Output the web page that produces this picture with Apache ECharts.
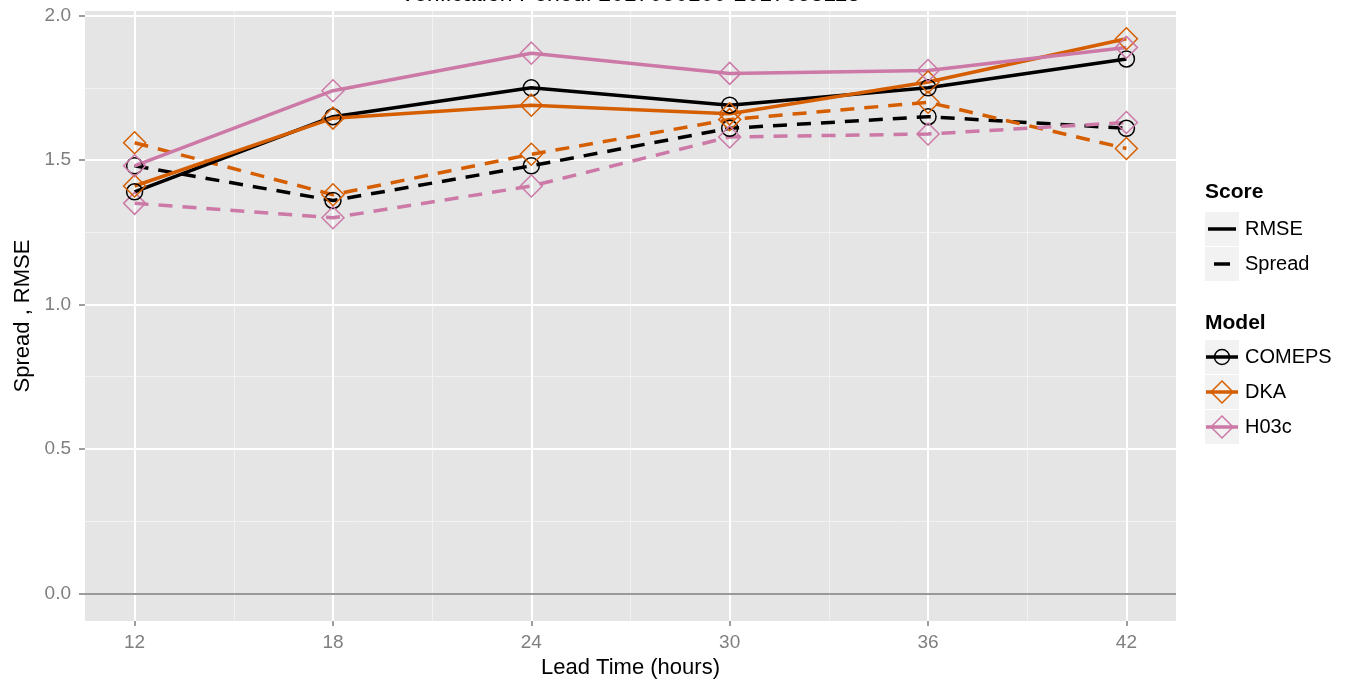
<!DOCTYPE html>
<html lang="en">

<head>
    <meta charset="UTF-8">
    <title>Spread, RMSE</title>
    <script src="https://cdn.jsdelivr.net/npm/echarts@6.0.0/dist/echarts.min.js"></script>
    <style>
        body { margin: 0; background: #fff; }
    </style>
</head>

<body>
    <div id="main" style="width: 1357px;height: 680px;"></div>
    <script>
        // lead times and tick positions
        var hours = [12, 18, 24, 30, 36, 42]
        var xTicks = [12, 18, 24, 30, 36, 42]
        var xMinor = [15, 21, 27, 33, 39]
        var yTicks = [0, 0.5, 1.0, 1.5, 2.0]
        var yMinor = [0.25, 0.75, 1.25, 1.75]

        // RMSE (solid lines)
        var comepsRmse = [1.39, 1.65, 1.75, 1.69, 1.75, 1.85]
        var dkaRmse = [1.41, 1.645, 1.69, 1.66, 1.77, 1.92]
        var h03cRmse = [1.48, 1.74, 1.87, 1.80, 1.81, 1.89]
        // Spread (dashed lines)
        var comepsSpread = [1.48, 1.36, 1.48, 1.61, 1.65, 1.61]
        var dkaSpread = [1.56, 1.38, 1.52, 1.64, 1.70, 1.54]
        var h03cSpread = [1.35, 1.30, 1.41, 1.58, 1.59, 1.63]

        var FONT = 'Liberation Sans, Arial, sans-serif'
        var BLACK = '#000000', ORANGE = '#D55E00', PINK = '#CC79A7'
        var DASH = [14, 10]

        function pts(vals) {
            return hours.map(function (h, i) { return [h, vals[i]] })
        }

        // one line series; open markers like ggplot shapes 1 and 5
        function line(name, vals, color, symbol, size, dashed) {
            return {
                name: name,
                type: 'line',
                data: pts(vals),
                symbol: symbol,
                symbolSize: size,
                showAllSymbol: true,
                lineStyle: { color: color, width: 3.5, type: dashed ? DASH : 'solid' },
                itemStyle: { color: 'rgba(0,0,0,0)', borderColor: color, borderWidth: 1.5 },
                emphasis: { disabled: true }
            }
        }

        var series = [
            line('COMEPS Spread', comepsSpread, BLACK, 'circle', 16, true),
            line('DKA Spread', dkaSpread, ORANGE, 'diamond', 22, true),
            line('H03c Spread', h03cSpread, PINK, 'diamond', 22, true),
            line('COMEPS RMSE', comepsRmse, BLACK, 'circle', 16, false),
            line('DKA RMSE', dkaRmse, ORANGE, 'diamond', 22, false),
            line('H03c RMSE', h03cRmse, PINK, 'diamond', 22, false)
        ]
        // horizontal line at 0
        series[0].markLine = {
            silent: true,
            symbol: 'none',
            label: { show: false },
            lineStyle: { color: '#999999', width: 2, type: 'solid' },
            data: [{ yAxis: 0 }],
            z: 1
        }

        /* legend drawn by hand: two titled groups like ggplot */
        var LX = 1205, BOX = 34
        var legend = []
        function label(txt, y, bold) {
            legend.push({
                type: 'text', x: bold ? LX : LX + 40, y: y,
                style: { text: txt, font: (bold ? 'bold 21px ' : '20px ') + FONT, fill: '#000', verticalAlign: 'middle' }
            })
        }
        function box(top) {
            legend.push({ type: 'rect', shape: { x: LX, y: top, width: BOX, height: BOX }, style: { fill: '#F2F2F2' } })
        }
        label('Score', 192, true)
        box(212); box(247)
        legend.push({ type: 'line', shape: { x1: LX + 3, y1: 229, x2: LX + 31, y2: 229 }, style: { stroke: BLACK, lineWidth: 3.5 } })
        legend.push({ type: 'line', shape: { x1: LX + 9, y1: 264, x2: LX + 25, y2: 264 }, style: { stroke: BLACK, lineWidth: 3.5 } })
        label('RMSE', 229)
        label('Spread', 264)

        label('Model', 323, true)
        var models = [['COMEPS', BLACK, 'circle'], ['DKA', ORANGE, 'diamond'], ['H03c', PINK, 'diamond']]
        models.forEach(function (m, i) {
            var top = 340 + i * 35, cy = top + 17, cx = LX + 17
            box(top)
            legend.push({ type: 'line', shape: { x1: LX + 1, y1: cy, x2: LX + 33, y2: cy }, style: { stroke: m[1], lineWidth: 3.5 } })
            if (m[2] === 'circle') {
                legend.push({ type: 'circle', shape: { cx: cx, cy: cy, r: 7.5 }, style: { fill: 'none', stroke: m[1], lineWidth: 1.5 } })
            } else {
                legend.push({ type: 'polygon', shape: { points: [[cx, cy - 11], [cx + 11, cy], [cx, cy + 11], [cx - 11, cy]] }, style: { fill: 'none', stroke: m[1], lineWidth: 1.5 } })
            }
            label(m[0], cy)
        })
        // title, mostly cut off at the top of the picture
        legend.push({
            type: 'text', x: 630, y: 6,
            style: { text: 'Verification Period: 2017050100-2017053118', font: '23px ' + FONT, fill: '#000', align: 'center', verticalAlign: 'bottom' }
        })

        var tickLine = { color: '#7F7F7F', width: 1.5 }
        var myCharts = echarts.init(document.getElementById('main'))
        var option = {
            animation: false,
            grid: {
                left: 85, right: 181, top: 11, height: 610, outerBoundsMode: 'none', containLabel: false,
                show: true, backgroundColor: '#E5E5E5', borderWidth: 0
            },
            xAxis: [
                {
                    type: 'value', min: 10.5, max: 43.5, z: 1,
                    axisLine: { show: false, onZero: false },
                    axisTick: { customValues: xTicks, length: 5, lineStyle: tickLine },
                    axisLabel: { customValues: xTicks, color: '#7F7F7F', fontSize: 19, fontFamily: FONT, margin: 12 },
                    splitLine: { lineStyle: { color: '#FFFFFF', width: 2 } },
                    name: 'Lead Time (hours)', nameLocation: 'middle', nameGap: 33,
                    nameTextStyle: { color: '#000', fontSize: 22, fontFamily: FONT }
                },
                {
                    type: 'value', min: 10.5, max: 43.5, position: 'top', z: 0,
                    axisLine: { show: false, onZero: false },
                    axisTick: { show: false, customValues: xMinor },
                    axisLabel: { show: false, customValues: xMinor },
                    splitLine: { lineStyle: { color: '#F2F2F2', width: 1 } }
                }
            ],
            yAxis: [
                {
                    type: 'value', min: -0.096, max: 2.016, z: 1,
                    axisLine: { show: false, onZero: false },
                    axisTick: { customValues: yTicks, length: 6, lineStyle: tickLine },
                    axisLabel: {
                        customValues: yTicks, color: '#7F7F7F', fontSize: 19, fontFamily: FONT, margin: 14,
                        formatter: function (v) { return v.toFixed(1) }
                    },
                    splitLine: { lineStyle: { color: '#FFFFFF', width: 2 } },
                    name: 'Spread , RMSE', nameLocation: 'middle', nameGap: 48,
                    nameTextStyle: { color: '#000', fontSize: 22, fontFamily: FONT }
                },
                {
                    type: 'value', min: -0.096, max: 2.016, position: 'right', z: 0,
                    axisLine: { show: false, onZero: false },
                    axisTick: { show: false, customValues: yMinor },
                    axisLabel: { show: false, customValues: yMinor },
                    splitLine: { lineStyle: { color: '#F2F2F2', width: 1 } }
                }
            ],
            graphic: legend,
            series: series
        }
        myCharts.setOption(option)
    </script>
</body>

</html>
